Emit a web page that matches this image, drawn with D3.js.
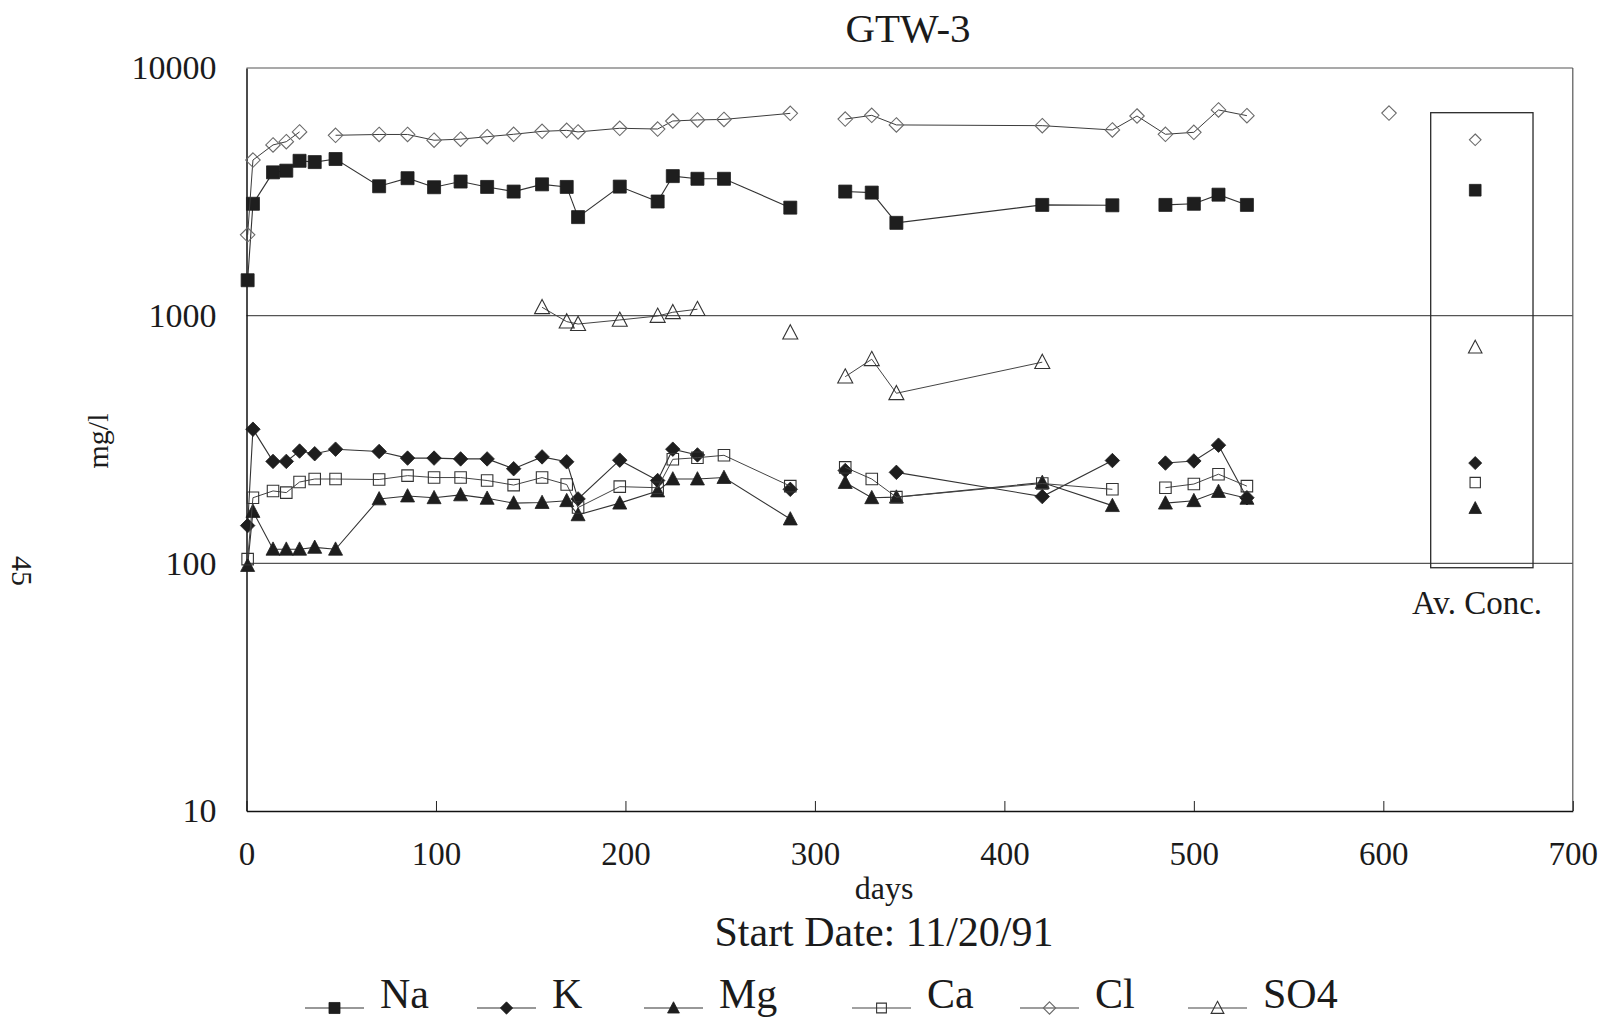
<!DOCTYPE html>
<html>
<head>
<meta charset="utf-8">
<script src="https://cdn.jsdelivr.net/npm/d3@7/dist/d3.min.js"></script>
<style>
  html, body { margin: 0; padding: 0; background: #fff; }
  svg { display: block; }
  text { font-family: "Liberation Serif", "Times New Roman", serif; fill: #1b1b1b; }
</style>
</head>
<body>
<svg id="chart" width="1607" height="1019"></svg>
<script>
// Sampling days since start date (11/20/91)
const days = [0.6, 3.4, 14, 21, 28, 36, 47, 70, 85, 99, 113, 127, 141, 156, 169, 175, 197,
              217, 225, 238, 252, 287, 316, 330, 343, 420, 457, 470, 485, 500, 513, 528, 603];

// Concentrations in mg/l (null = not analysed)
const na  = [1390, 2830, 3790, 3850, 4220, 4170, 4290, 3330, 3590, 3300, 3480, 3310, 3170, 3390, 3310, 2500, 3320,
             2890, 3660, 3570, 3570, 2730, 3170, 3140, 2370, 2800, 2790, null, 2800, 2830, 3080, 2800, null];
const k   = [142, 348, 258, 258, 284, 277, 289, 283, 266, 266, 264, 264, 241, 269, 257, 182, 261,
             216, 289, 274, null, 199, 237, null, 233, 186, 260, null, 254, 259, 300, 184, null];
const mg  = [98, 162, 114, 114, 114, 116, 114, 182, 187, 184, 189, 183, 175, 176, 179, 157, 175,
             196, 219, 219, 222, 151, 212, 184, 185, 212, 171, null, 175, 179, 195, 183, null];
const ca  = [104, 184, 196, 193, 213, 219, 219, 218, 226, 222, 222, 216, 207, 222, 208, 168, 204,
             202, 263, 267, 273, 205, 244, 219, 185, 210, 199, null, 202, 209, 229, 205, null];
const cl  = [2120, 4250, 4890, 5040, 5520, null, 5350, 5390, 5390, 5110, 5160, 5280, 5400, 5550, 5600, 5520, 5710,
             5670, 6110, 6170, 6200, 6560, 6220, 6440, 5890, 5850, 5620, 6400, 5400, 5500, 6770, 6420, 6580];
const so4 = [null, null, null, null, null, null, null, null, null, null, null, null, null, 1081, 946, 925, 961,
             997, 1032, 1062, null, 854, 567, 667, 486, 649, null, null, null, null, null, null, null];

// Lines are not continued across these sampling breaks (day before the break)
const gapAfter = [287, 528];

// Average concentrations, plotted at the right
const avgDay = 648.5;
const avgValues = [3210, 254, 167, 212, 5130, 745];

const seriesNames = ["Na", "K", "Mg", "Ca", "Cl", "SO4"];
const seriesValues = [na, k, mg, ca, cl, so4];

const xTicks = [0, 100, 200, 300, 400, 500, 600, 700];
const yTicks = [10, 100, 1000, 10000];
const gridValues = [100, 1000];

// Box around the averages (days, mg/l)
const avgBoxDays = [625, 679];
const avgBoxConc = [96, 6600];

// ---- layout ----
const plot = { left: 246.5, right: 1572.8, top: 68, bottom: 811 };
const legendX = [305, 477, 644, 852, 1020, 1188];
const legendY = 1008;

const svg = d3.select("#chart");
svg.append("rect").attr("width", 1607).attr("height", 1019).attr("fill", "#fff");

const x = d3.scaleLinear().domain([0, 700]).range([plot.left, plot.right]);
const y = d3.scaleLog().domain([10, 10000]).range([plot.bottom, plot.top]);

// marker styles per series
const styles = {
  Na:  { shape: "square",   size: 13,   fill: "#1e1e1e", stroke: "#1e1e1e", line: "#333", lw: 1.1 },
  K:   { shape: "diamond",  size: 14.5, fill: "#1e1e1e", stroke: "#1e1e1e", line: "#333", lw: 1.1 },
  Mg:  { shape: "triangle", size: 14,   fill: "#1e1e1e", stroke: "#1e1e1e", line: "#333", lw: 1.1 },
  Ca:  { shape: "square",   size: 11.5, fill: "none",    stroke: "#333",    line: "#444", lw: 1.0 },
  Cl:  { shape: "diamond",  size: 14.5, fill: "none",    stroke: "#6a6a6a", line: "#3c3c3c", lw: 1.0 },
  SO4: { shape: "triangle", size: 15,   fill: "none",    stroke: "#333",    line: "#444", lw: 1.0 }
};

function markerPath(shape, s) {
  const h = s / 2;
  if (shape === "square") return `M${-h},${-h}H${h}V${h}H${-h}Z`;
  if (shape === "diamond") return `M0,${-h}L${h},0L0,${h}L${-h},0Z`;
  // triangle, apex up
  return `M0,${-h * 1.05}L${h},${h * 0.85}L${-h},${h * 0.85}Z`;
}

function drawMarker(g, name, cx, cy, scale) {
  const st = styles[name];
  g.append("path")
    .attr("d", markerPath(st.shape, st.size * (scale || 1)))
    .attr("transform", `translate(${cx},${cy})`)
    .attr("fill", st.fill)
    .attr("stroke", st.stroke)
    .attr("stroke-width", st.fill === "none" ? 1.1 : 0.8);
}

// ---- frame, grid ----
const frame = svg.append("g");
frame.append("line")
  .attr("x1", plot.left).attr("x2", plot.right).attr("y1", plot.top).attr("y2", plot.top)
  .attr("stroke", "#555").attr("stroke-width", 1.2);
frame.append("line")
  .attr("x1", plot.right).attr("x2", plot.right).attr("y1", plot.top).attr("y2", plot.bottom)
  .attr("stroke", "#555").attr("stroke-width", 1.2);
frame.selectAll("line.grid").data(gridValues).enter().append("line")
  .attr("class", "grid")
  .attr("x1", plot.left).attr("x2", plot.right)
  .attr("y1", d => y(d)).attr("y2", d => y(d))
  .attr("stroke", "#555").attr("stroke-width", 1.2);

// average box
svg.append("rect")
  .attr("x", x(avgBoxDays[0])).attr("y", y(avgBoxConc[1]))
  .attr("width", x(avgBoxDays[1]) - x(avgBoxDays[0]))
  .attr("height", y(avgBoxConc[0]) - y(avgBoxConc[1]))
  .attr("fill", "none").attr("stroke", "#2a2a2a").attr("stroke-width", 1.3);

// ---- axes ----
const xAxis = d3.axisBottom(x).tickValues(xTicks).tickSizeInner(-10).tickSizeOuter(0).tickPadding(31);
const gx = svg.append("g").attr("transform", `translate(0,${plot.bottom})`).call(xAxis);
gx.select(".domain").attr("stroke", "#111").attr("stroke-width", 1.5);
gx.selectAll(".tick line").attr("stroke", "#222").attr("stroke-width", 1);
gx.selectAll(".tick text").attr("font-size", 33).attr("fill", "#1b1b1b")
  .style("font-family", "'Liberation Serif', serif");

const yAxis = d3.axisLeft(y).tickValues(yTicks).tickSize(0).tickPadding(30).tickFormat(d3.format("d"));
const gy = svg.append("g").attr("transform", `translate(${plot.left},0)`).call(yAxis);
gy.select(".domain").attr("stroke", "#111").attr("stroke-width", 1.5);
gy.selectAll(".tick text").attr("font-size", 34).attr("fill", "#1b1b1b")
  .style("font-family", "'Liberation Serif', serif");

// ---- series ----
function runs(values) {
  const out = [];
  let cur = [];
  values.forEach((v, i) => {
    const broken = i > 0 && gapAfter.includes(days[i - 1]);
    if (v == null || broken) {
      if (cur.length) out.push(cur);
      cur = [];
    }
    if (v != null) cur.push([days[i], v]);
  });
  if (cur.length) out.push(cur);
  return out;
}

const line = d3.line().x(d => x(d[0])).y(d => y(d[1]));

seriesNames.forEach((name, si) => {
  const st = styles[name];
  const g = svg.append("g");
  runs(seriesValues[si]).forEach(r => {
    if (r.length > 1) {
      g.append("path").attr("d", line(r)).attr("fill", "none")
        .attr("stroke", st.line).attr("stroke-width", st.lw);
    }
  });
  seriesValues[si].forEach((v, i) => {
    if (v != null) drawMarker(g, name, x(days[i]), y(v));
  });
  // average marker
  drawMarker(g, name, x(avgDay), y(avgValues[si]), name === "Cl" ? 0.8 : 0.9);
});

// ---- texts ----
svg.append("text").attr("x", 908).attr("y", 42).attr("text-anchor", "middle")
  .attr("font-size", 41).text("GTW-3");

svg.append("text").attr("transform", "translate(108,441) rotate(-90)")
  .attr("text-anchor", "middle").attr("font-size", 30).text("mg/l");

svg.append("text").attr("transform", "translate(12,571) rotate(90)")
  .attr("text-anchor", "middle").attr("font-size", 30).text("45");

svg.append("text").attr("x", 884).attr("y", 899).attr("text-anchor", "middle")
  .attr("font-size", 32).text("days");

svg.append("text").attr("x", 884).attr("y", 946).attr("text-anchor", "middle")
  .attr("font-size", 42).text("Start Date: 11/20/91");

svg.append("text").attr("x", 1477).attr("y", 614).attr("text-anchor", "middle")
  .attr("font-size", 33).text("Av. Conc.");

// ---- legend ----
const legend = svg.append("g");
seriesNames.forEach((name, i) => {
  const st = styles[name];
  const x0 = legendX[i];
  legend.append("line").attr("x1", x0).attr("x2", x0 + 59)
    .attr("y1", legendY).attr("y2", legendY)
    .attr("stroke", st.line).attr("stroke-width", 1.1);
  drawMarker(legend, name, x0 + 29.5, legendY, 0.85);
  legend.append("text").attr("x", x0 + 75).attr("y", legendY)
    .attr("font-size", 42).text(name);
});
</script>
</body>
</html>
